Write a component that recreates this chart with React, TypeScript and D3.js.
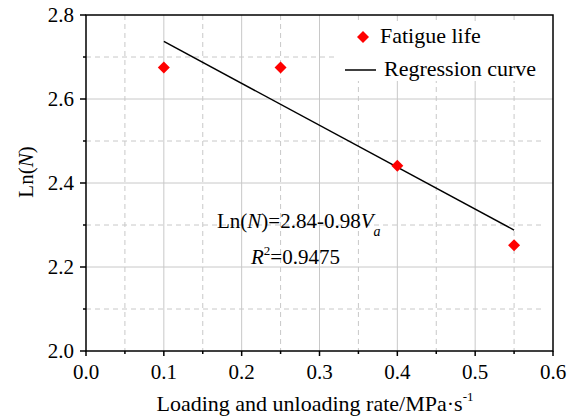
import React from "react";
import * as d3 from "d3";

const rateX = [0.1, 0.25, 0.4, 0.55];
const lnN = [2.675, 2.675, 2.441, 2.252];
const fitX = [0.1, 0.55];
const fitY = [2.737, 2.288];
const xMajor = [0, 0.1, 0.2, 0.3, 0.4, 0.5, 0.6];
const xMinor = [0.05, 0.15, 0.25, 0.35, 0.45, 0.55];
const yMajor = [2.0, 2.2, 2.4, 2.6, 2.8];
const yMinor = [2.1, 2.3, 2.5, 2.7];

const W = 577, H = 418;
const L = 86, R = 553, T = 15, B = 351;
const FONT = "Liberation Serif, Times New Roman, serif";

export default function App() {
  const x = d3.scaleLinear().domain([0, 0.6]).range([L, R]);
  const y = d3.scaleLinear().domain([2.0, 2.8]).range([B, T]);
  const line = d3.line<number>().x((d, i) => x(fitX[i])).y((d) => y(d));
  const diamond = (cx: number, cy: number, r: number) =>
    `M${cx},${cy - r}L${cx + r},${cy}L${cx},${cy + r}L${cx - r},${cy}Z`;

  return (
    <svg width={W} height={H} style={{ position: "absolute", left: 0, top: 0, background: "#fff", fontFamily: FONT }}>
      {/* grid */}
      {xMajor.slice(1, -1).map((v) => (
        <line key={"gx" + v} x1={x(v)} x2={x(v)} y1={T} y2={B} stroke="#c8c8c8" strokeWidth={1} />
      ))}
      {xMinor.map((v) => (
        <line key={"gxm" + v} x1={x(v)} x2={x(v)} y1={T} y2={B} stroke="#c8c8c8" strokeWidth={1} strokeDasharray="5,4" />
      ))}
      {yMajor.slice(1, -1).map((v) => (
        <line key={"gy" + v} x1={L} x2={R} y1={y(v)} y2={y(v)} stroke="#c8c8c8" strokeWidth={1} />
      ))}
      {yMinor.map((v) => (
        <line key={"gym" + v} x1={L} x2={R - 8} y1={y(v)} y2={y(v)} stroke="#c8c8c8" strokeWidth={1} strokeDasharray="5,4" />
      ))}
      {/* legend background */}
      <rect x={338} y={21} width={R - 338 - 4} height={60} fill="#fff" />
      {/* frame */}
      <rect x={L} y={T} width={R - L} height={B - T} fill="none" stroke="#000" strokeWidth={1.5} />
      {/* x ticks */}
      {xMajor.map((v) => (
        <g key={"xt" + v}>
          <line x1={x(v)} x2={x(v)} y1={B} y2={B + 5} stroke="#000" strokeWidth={1.5} />
          <text x={x(v)} y={B + 28} textAnchor="middle" fontSize={21}>{v.toFixed(1)}</text>
        </g>
      ))}
      {xMinor.map((v) => (
        <line key={"xmt" + v} x1={x(v)} x2={x(v)} y1={B} y2={B + 3} stroke="#000" strokeWidth={1.5} />
      ))}
      {/* y ticks */}
      {yMajor.map((v) => (
        <g key={"yt" + v}>
          <line x1={L - 6} x2={L} y1={y(v)} y2={y(v)} stroke="#000" strokeWidth={1.5} />
          <text x={L - 12} y={y(v) + 7} textAnchor="end" fontSize={21}>{v.toFixed(1)}</text>
        </g>
      ))}
      {yMinor.map((v) => (
        <line key={"ymt" + v} x1={L - 3} x2={L} y1={y(v)} y2={y(v)} stroke="#000" strokeWidth={1.5} />
      ))}
      {/* regression line */}
      <path d={line(fitY) || ""} fill="none" stroke="#000" strokeWidth={1.5} />
      {/* points */}
      {rateX.map((v, i) => (
        <path key={"p" + i} d={diamond(x(v), y(lnN[i]), 6)} fill="#ff0000" />
      ))}
      {/* legend */}
      <path d={diamond(363, 37, 6)} fill="#ff0000" />
      <text x={380} y={43} fontSize={22}>Fatigue life</text>
      <line x1={345} x2={376} y1={70} y2={70} stroke="#000" strokeWidth={1.5} />
      <text x={384} y={76} fontSize={22}>Regression curve</text>
      {/* equation */}
      <text x={217} y={228} fontSize={21}>
        Ln(<tspan fontStyle="italic">N</tspan>)=2.84-0.98<tspan fontStyle="italic">V</tspan>
        <tspan fontStyle="italic" fontSize={14} dy={8}>a</tspan>
      </text>
      <text x={251} y={264} fontSize={21}>
        <tspan fontStyle="italic">R</tspan>
        <tspan fontSize={13} dy={-9}>2</tspan>
        <tspan dy={9}>=0.9475</tspan>
      </text>
      {/* axis titles */}
      <text x={315} y={411} textAnchor="middle" fontSize={22}>
        Loading and unloading rate/MPa·s<tspan fontSize={13} dy={-10}>-1</tspan>
      </text>
      <text transform={`translate(33,172) rotate(-90)`} textAnchor="middle" fontSize={21}>
        Ln(<tspan fontStyle="italic">N</tspan>)
      </text>
    </svg>
  );
}
